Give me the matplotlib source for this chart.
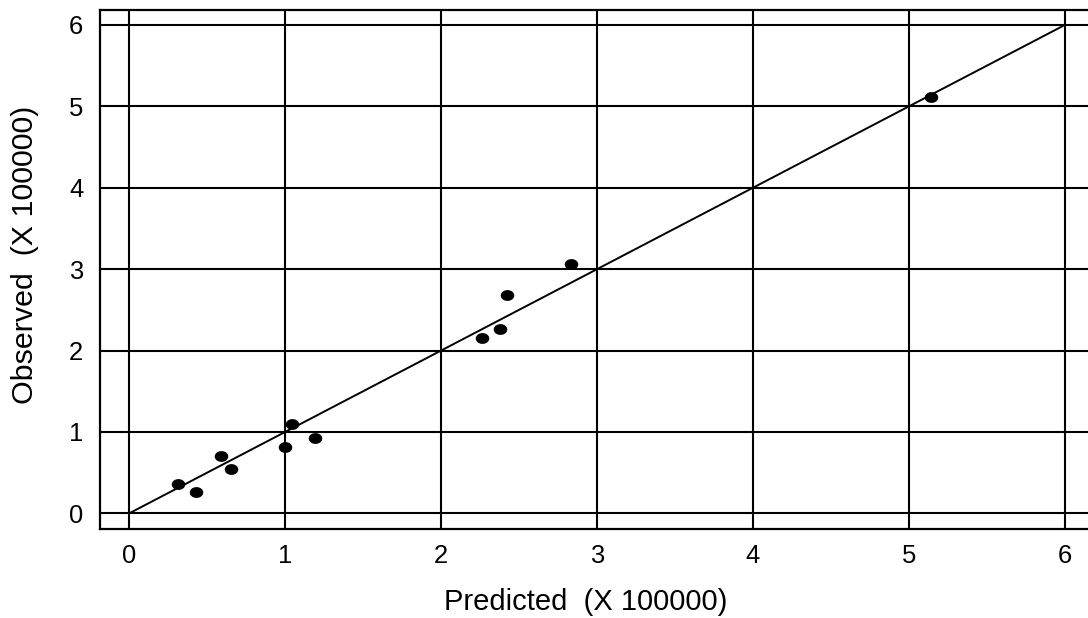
import numpy as np
import matplotlib
matplotlib.use("Agg")
import matplotlib.pyplot as plt
from matplotlib.path import Path

predicted = [0.31, 0.43, 0.59, 0.65, 1.00, 1.045, 1.19, 2.26, 2.38, 2.42, 2.83, 5.14]
observed = [0.36, 0.26, 0.70, 0.54, 0.82, 1.10, 0.93, 2.155, 2.27, 2.68, 3.06, 5.11]
ticks = [0, 1, 2, 3, 4, 5, 6]
line_ends = [0, 6]

plt.rcParams['font.family'] = ['Liberation Sans', 'DejaVu Sans']

fig = plt.figure(figsize=(10.88, 6.18), dpi=100)
ax = fig.add_axes([100/1088, 1 - 529/618, 996/1088, 519/618])

# ellipse marker (slightly wider than tall)
t = np.linspace(0, 2*np.pi, 40)
ell = Path(np.column_stack([np.cos(t), 0.8*np.sin(t)]), closed=True)

ax.plot(line_ends, line_ends, color='black', lw=1.4, zorder=3)
ax.scatter(predicted, observed, marker=ell, s=95, color='black', zorder=4, linewidths=0)

ax.set_xlim(-0.188, 6.2)
ax.set_ylim(-0.193, 6.184)
ax.set_xticks(ticks)
ax.set_yticks(ticks)
ax.set_xticklabels([str(v) for v in ticks])
ax.set_yticklabels([str(v) for v in ticks])
ax.grid(True, color='black', lw=1.5)
ax.set_axisbelow(True)
ax.tick_params(length=0, labelsize=18.4, pad=11)
ax.tick_params(axis='y', pad=12)
for s in ax.spines.values():
    s.set_linewidth(1.6)
    s.set_color('black')
ax.spines['right'].set_visible(False)

ax.set_xlabel('Predicted  (X 100000)', fontsize=21, labelpad=14)
ax.set_ylabel('Observed  (X 100000)', fontsize=21.9, labelpad=22)
ax.xaxis.label.set_x(0.4875)
ax.yaxis.label.set_y(0.528)

fig.savefig('out.png', dpi=100)
